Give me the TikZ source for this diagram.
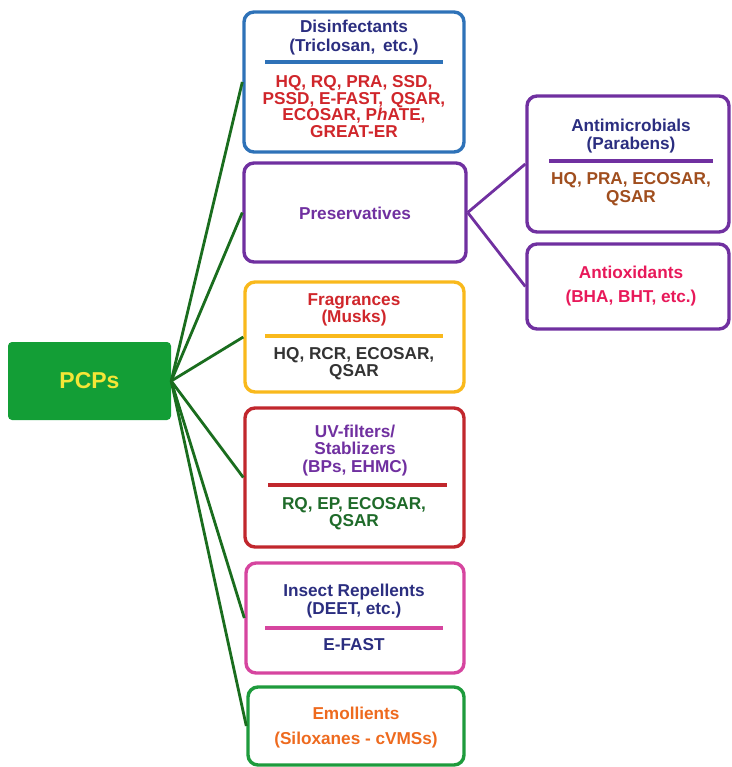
\documentclass[tikz,border=0pt]{standalone}
\usepackage{fontspec}
\setmainfont{Liberation Sans}
\definecolor{boxblue}{HTML}{2E72B8}
\definecolor{navy}{HTML}{2B2E80}
\definecolor{redtxt}{HTML}{D0262B}
\definecolor{purp}{HTML}{7030A0}
\definecolor{browntxt}{HTML}{A04E1E}
\definecolor{crimson}{HTML}{E8195A}
\definecolor{boxorange}{HTML}{F9B91C}
\definecolor{greytxt}{HTML}{333333}
\definecolor{uvred}{HTML}{C1272D}
\definecolor{dkgreentxt}{HTML}{1F6B2A}
\definecolor{magbox}{HTML}{D6459F}
\definecolor{emogreen}{HTML}{1E9B3C}
\definecolor{orangetxt}{HTML}{EE6A1E}
\definecolor{pcpfill}{HTML}{139E36}
\definecolor{pcptxt}{HTML}{F4E637}
\definecolor{conn}{HTML}{1A6D1E}
\begin{document}
\begin{tikzpicture}[x=1pt,y=-1pt,
  catbox/.style={draw, line width=3.4pt, rounded corners=10pt, fill=white, inner sep=0pt},
  txt/.style={align=center, font=\fontsize{17.2}{17.6}\selectfont\bfseries, inner sep=0pt},
  loosetxt/.style={align=center, font=\fontsize{17.2}{24.5}\selectfont\bfseries, inner sep=0pt},
  sepline/.style={line width=3.6pt},
  link/.style={draw=conn, line width=2.8pt},
  sublink/.style={draw=purp, line width=2.8pt}]
\useasboundingbox (0,0) rectangle (731,767);

% boxes
\node[catbox, draw=boxblue, minimum width=220pt, minimum height=140pt] (dis) at (354,82) {};
\node[catbox, draw=purp, minimum width=222pt, minimum height=99pt] (pres) at (355,212.5) {};
\node[catbox, draw=purp, minimum width=202pt, minimum height=136pt] (anti) at (628,164) {};
\node[catbox, draw=purp, minimum width=202pt, minimum height=85pt] (antiox) at (628,286.5) {};
\node[catbox, draw=boxorange, minimum width=219pt, minimum height=110pt] (frag) at (354.5,337) {};
\node[catbox, draw=uvred, minimum width=219pt, minimum height=139pt] (uv) at (354.5,477.5) {};
\node[catbox, draw=magbox, minimum width=218pt, minimum height=110pt] (ins) at (355,618) {};
\node[catbox, draw=emogreen, minimum width=216pt, minimum height=78pt] (emo) at (356,726) {};
\node[fill=pcpfill, rounded corners=4pt, minimum width=163pt, minimum height=78pt, inner sep=0pt,
      text=pcptxt, font=\fontsize{23}{25}\selectfont\bfseries] (pcps) at (89.5,381) {PCPs};

% connectors
\draw[link] (pcps.east) -- (dis.west);
\draw[link] (pcps.east) -- (pres.west);
\draw[link] (pcps.east) -- (frag.west);
\draw[link] (pcps.east) -- (uv.west);
\draw[link] (pcps.east) -- (ins.west);
\draw[link] (pcps.east) -- (emo.west);
\draw[sublink] (pres.east) -- (anti.west);
\draw[sublink] (pres.east) -- (antiox.west);

% Disinfectants
\node[txt, text=navy, font=\fontsize{17.2}{19}\selectfont\bfseries] (distitle) at (354,37.5) {Disinfectants\\(Triclosan,\, etc.)};
\coordinate (disA) at (265,62); \coordinate (disB) at (443,62);
\draw[sepline, draw=boxblue] (disA) -- (disB);
\node[txt, text=redtxt, font=\fontsize{17.2}{16.8}\selectfont\bfseries] (disbody) at (354,106.5) {HQ, RQ, PRA, SSD,\\PSSD, E-FAST,\, QSAR,\\ECOSAR, P\textit{h}ATE,\\GREAT-ER};

% Preservatives
\node[txt, text=purp] (prestext) at (355,213) {Preservatives};

% Antimicrobials
\node[txt, text=navy] (antititle) at (631,136) {Antimicrobials\\(Parabens)};
\coordinate (antiA) at (549,161); \coordinate (antiB) at (713,161);
\draw[sepline, draw=purp] (antiA) -- (antiB);
\node[txt, text=browntxt] (antibody) at (631,189) {HQ, PRA, ECOSAR,\\QSAR};

% Antioxidants
\node[loosetxt, text=crimson] (antioxtext) at (631,286) {Antioxidants\\(BHA, BHT, etc.)};

% Fragrances
\node[txt, text=redtxt] (fragtitle) at (354,310) {Fragrances\\(Musks)};
\coordinate (fragA) at (265,336); \coordinate (fragB) at (443,336);
\draw[sepline, draw=boxorange] (fragA) -- (fragB);
\node[txt, text=greytxt] (fragbody) at (354,363.5) {HQ, RCR, ECOSAR,\\QSAR};

% UV filters
\node[txt, text=purp] (uvtitle) at (355,450.5) {UV-filters/\\Stablizers\\(BPs, EHMC)};
\coordinate (uvA) at (268,485); \coordinate (uvB) at (447,485);
\draw[sepline, draw=uvred] (uvA) -- (uvB);
\node[txt, text=dkgreentxt] (uvbody) at (354,513.5) {RQ, EP, ECOSAR,\\QSAR};

% Insect repellents
\node[txt, text=navy] (institle) at (354,601) {Insect Repellents\\(DEET, etc.)};
\coordinate (insA) at (265,628); \coordinate (insB) at (443,628);
\draw[sepline, draw=magbox] (insA) -- (insB);
\node[txt, text=navy] (insbody) at (354,645) {E-FAST};

% Emollients
\node[loosetxt, text=orangetxt] (emotext) at (356,727.5) {Emollients\\(Siloxanes - cVMSs)};
\end{tikzpicture}
\end{document}
